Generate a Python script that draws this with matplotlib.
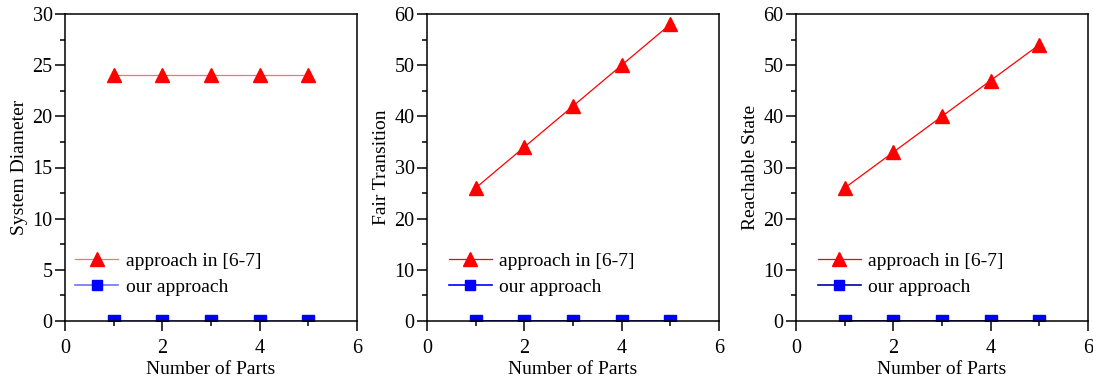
import matplotlib
matplotlib.use("Agg")
import matplotlib.pyplot as plt
from matplotlib.ticker import MultipleLocator

plt.rcParams['font.family'] = ['Liberation Serif', 'DejaVu Serif']
plt.rcParams['font.size'] = 14

parts = [1, 2, 3, 4, 5]
diam_old = [24, 24, 24, 24, 24]
diam_new = [0, 0, 0, 0, 0]
fair_old = [26, 34, 42, 50, 58]
fair_new = [0, 0, 0, 0, 0]
reach_old = [26, 33, 40, 47, 54]
reach_new = [0, 0, 0, 0, 0]

ylabels = ["System Diameter", "Fair Transition", "Reachable State"]
ymaxes = [30, 60, 60]
ysteps = [5, 10, 10]
legend_labels = ["approach in [6-7]", "our approach"]

fig = plt.figure(figsize=(10.93, 3.78), dpi=100)
W, H = 1093, 378
lefts = [65, 427, 796]
axw = 292
top, bottom = 14, 321
leg_x = [0.035, 0.075, 0.075]
line_cols = [("#ff7070", "#7070ff"), ("red", "blue"), ("red", "#0000aa")]

series = [(diam_old, diam_new), (fair_old, fair_new), (reach_old, reach_new)]
for i in range(3):
    ax = fig.add_axes([lefts[i] / W, 1 - bottom / H, axw / W, (bottom - top) / H])
    old, new = series[i]
    lc_r, lc_b = line_cols[i]
    ax.plot(parts, old, color=lc_r, lw=0.9, marker='^', ms=10,
            mfc='red', mec='red', label=legend_labels[0], clip_on=False)
    ax.plot(parts, new, color=lc_b, lw=1.2, marker='s', ms=8,
            mfc='blue', mec='blue', label=legend_labels[1], clip_on=True, zorder=3)
    ax.set_xlim(0, 6)
    ax.set_ylim(0, ymaxes[i])
    ax.xaxis.set_major_locator(MultipleLocator(2))
    ax.xaxis.set_minor_locator(MultipleLocator(1))
    ax.yaxis.set_major_locator(MultipleLocator(ysteps[i]))
    ax.yaxis.set_minor_locator(MultipleLocator(ysteps[i] / 2))
    ax.tick_params(which='both', direction='out', top=False, right=False, width=1.1, labelsize=14.5)
    ax.tick_params(which='major', length=7)
    ax.tick_params(which='minor', length=3.8)
    ax.tick_params(axis='x', which='major', pad=6)
    ax.tick_params(axis='y', which='major', pad=2)
    for s in ax.spines.values():
        s.set_linewidth(1.1)
        s.set_zorder(4)
    ax.set_xlabel("Number of Parts", fontsize=14, labelpad=2)
    ax.set_ylabel(ylabels[i], fontsize=14, labelpad=3)
    leg = ax.legend(loc='lower left', bbox_to_anchor=(leg_x[i], 0.083), frameon=False,
                    fontsize=14, handlelength=2.2, handletextpad=0.4, labelspacing=0.4,
                    borderpad=0, borderaxespad=0)
    leg.legend_handles[1].set_markersize(7)

fig.savefig("out.png", dpi=100)
